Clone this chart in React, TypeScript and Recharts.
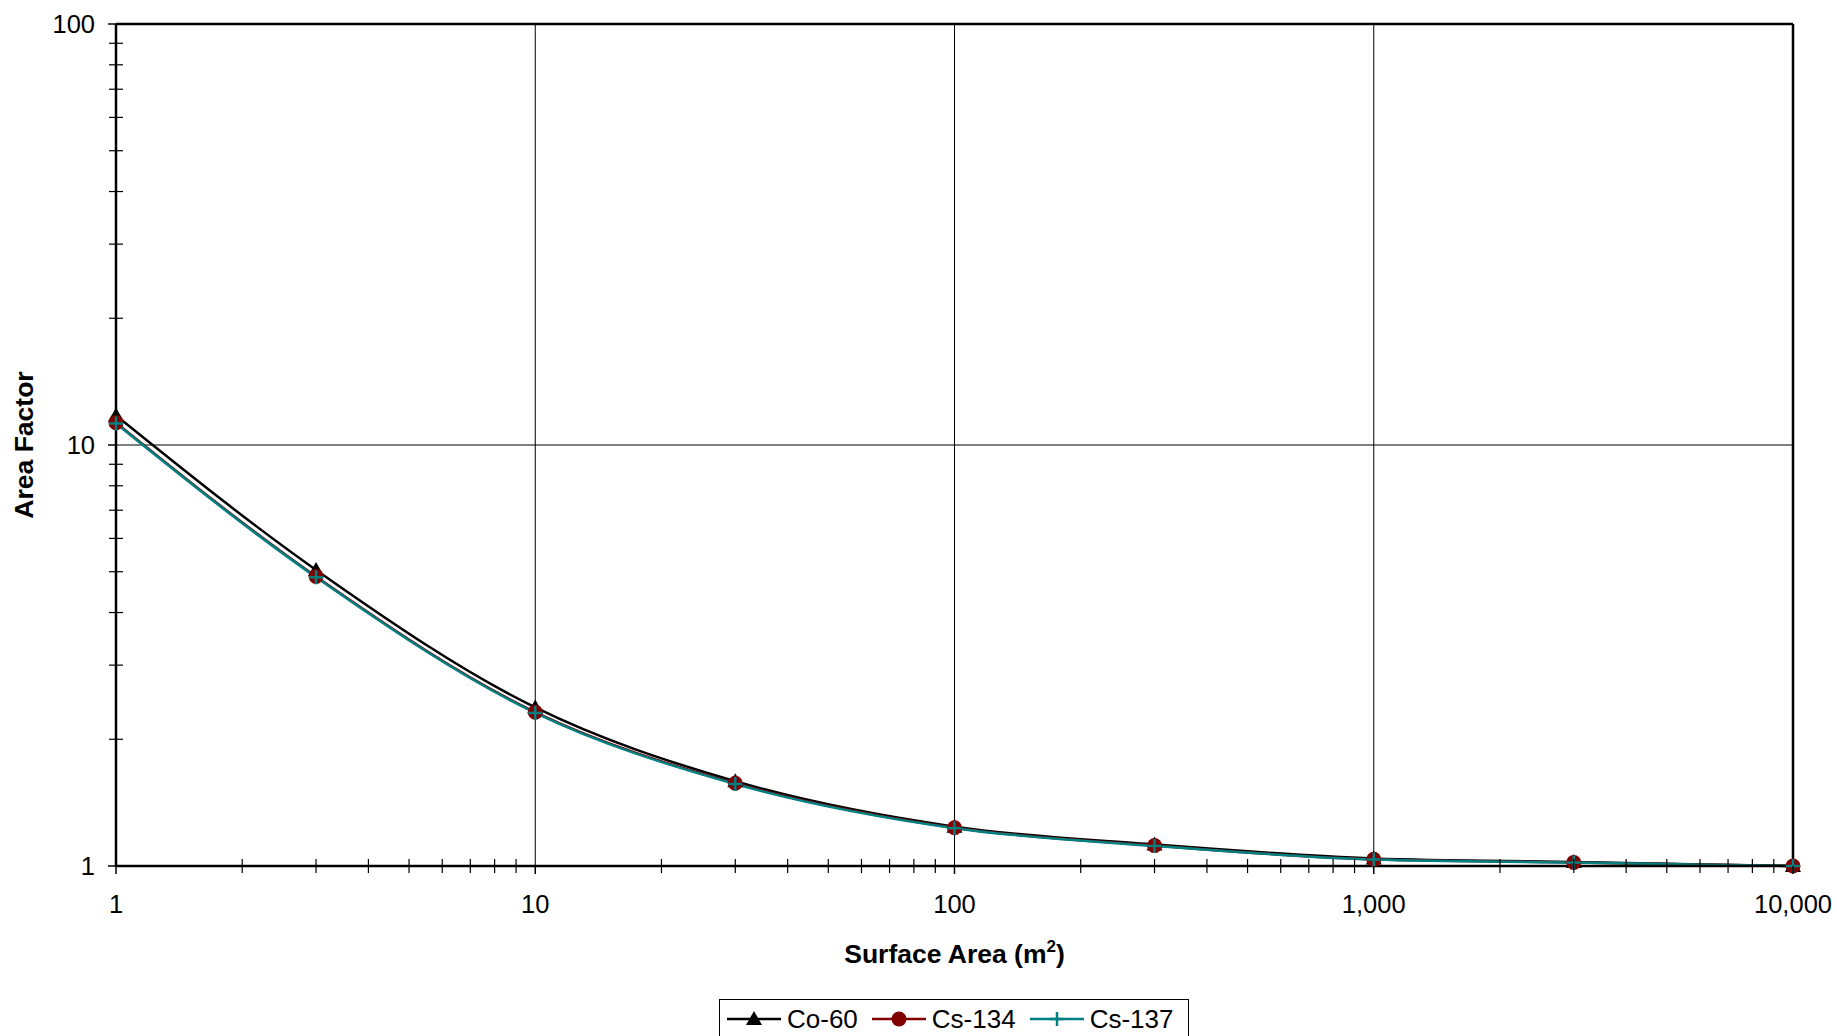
import React from 'react';
import { LineChart, Line, XAxis, YAxis, ReferenceLine, Legend, Label } from 'recharts';

const surfaceArea = [1, 3, 10, 30, 100, 300, 1000, 3000, 10000];
const co60 = [11.75, 5.05, 2.38, 1.59, 1.24, 1.125, 1.042, 1.022, 1.0];
const cs134 = [11.3, 4.87, 2.32, 1.572, 1.233, 1.118, 1.037, 1.02, 1.0];
const cs137 = [11.25, 4.85, 2.31, 1.566, 1.23, 1.116, 1.036, 1.019, 1.0];

const xMajorTicks = [1, 10, 100, 1000, 10000];
const yMajorTicks = [1, 10, 100];
const minorMultipliers = [1, 2, 3, 4, 5, 6, 7, 8, 9];
const xTicks = xMajorTicks.flatMap((m, i) => (i < xMajorTicks.length - 1 ? minorMultipliers.map((k) => m * k) : [m]));
const yTicks = yMajorTicks.flatMap((m, i) => (i < yMajorTicks.length - 1 ? minorMultipliers.map((k) => m * k) : [m]));
const xGrid = [10, 100, 1000];
const yGrid = [10];

const seriesNames = ['Co-60', 'Cs-134', 'Cs-137'];
const seriesColors = ['#000000', '#800000', '#008080'];

const data = surfaceArea.map((x, i) => ({ x, co60: co60[i], cs134: cs134[i], cs137: cs137[i] }));

const FONT = '"Liberation Sans", Arial, sans-serif';
const fmt = (v: number) => v.toLocaleString('en-US');

const XTick = (props: any) => {
  const { x, y, payload } = props;
  const v = payload.value;
  const major = xMajorTicks.includes(v);
  return (
    <g>
      {major ? (
        <line x1={x} x2={x} y1={y} y2={y + 8} stroke="#000" strokeWidth={1.5} />
      ) : (
        <line x1={x} x2={x} y1={y - 7} y2={y + 7} stroke="#000" strokeWidth={1.2} />
      )}
      {major && (
        <text x={x} y={y + 47} textAnchor="middle" fontFamily={FONT} fontSize={25.5} fill="#000">
          {fmt(v)}
        </text>
      )}
    </g>
  );
};

const YTick = (props: any) => {
  const { x, y, payload } = props;
  const v = payload.value;
  const major = yMajorTicks.includes(v);
  return (
    <g>
      {major ? (
        <line x1={x - 8} x2={x} y1={y} y2={y} stroke="#000" strokeWidth={1.5} />
      ) : (
        <line x1={x - 7} x2={x + 7} y1={y} y2={y} stroke="#000" strokeWidth={1.2} />
      )}
      {major && (
        <text x={x - 21} y={y + 9} textAnchor="end" fontFamily={FONT} fontSize={25.5} fill="#000">
          {fmt(v)}
        </text>
      )}
    </g>
  );
};

const Triangle = (props: any) => {
  const { cx, cy } = props;
  if (cx == null || cy == null) return null;
  return <path d={`M${cx},${cy - 8} L${cx + 8},${cy + 6} L${cx - 8},${cy + 6} Z`} fill="#000" />;
};
const Circle = (props: any) => {
  const { cx, cy } = props;
  if (cx == null || cy == null) return null;
  return <circle cx={cx} cy={cy} r={7.5} fill="#800000" />;
};
const Plus = (props: any) => {
  const { cx, cy } = props;
  if (cx == null || cy == null) return null;
  return (
    <g stroke="#008080" strokeWidth={2.5}>
      <line x1={cx - 7} x2={cx + 7} y1={cy} y2={cy} />
      <line x1={cx} x2={cx} y1={cy - 7} y2={cy + 7} />
    </g>
  );
};

const LegendIcon = ({ i }: { i: number }) => {
  const c = seriesColors[i];
  return (
    <svg width={54} height={20} style={{ display: 'block', flexShrink: 0 }}>
      <line x1={0} x2={54} y1={10} y2={10} stroke={c} strokeWidth={2.5} />
      {i === 0 && <path d="M27,2 L35,16 L19,16 Z" fill="#000" />}
      {i === 1 && <circle cx={27} cy={10} r={7.5} fill="#800000" />}
      {i === 2 && (
        <g stroke="#008080" strokeWidth={2.5}>
          <line x1={20} x2={34} y1={10} y2={10} />
          <line x1={27} x2={27} y1={3} y2={17} />
        </g>
      )}
    </svg>
  );
};

const LegendContent = () => (
  <div
    style={{
      border: '1.5px solid #000',
      boxSizing: 'border-box',
      width: 470,
      height: 50,
      display: 'flex',
      flexWrap: 'nowrap',
      alignItems: 'flex-start',
      paddingLeft: 7,
      paddingTop: 4,
      fontFamily: FONT,
      fontSize: 26,
      background: '#fff',
      whiteSpace: 'nowrap',
    }}
  >
    {seriesNames.map((n, i) => (
      <div key={n} style={{ display: 'flex', alignItems: 'center', marginRight: 14, flexShrink: 0 }}>
        <LegendIcon i={i} />
        <span style={{ marginLeft: 6, lineHeight: '30px', whiteSpace: 'nowrap' }}>{n}</span>
      </div>
    ))}
  </div>
);

const XTitle = (props: any) => {
  const { viewBox } = props;
  const cx = viewBox.x + viewBox.width / 2;
  return (
    <text x={cx} y={viewBox.y + 97} textAnchor="middle" fontFamily={FONT} fontSize={26.5} fontWeight="bold" fill="#000">
      Surface Area (m
      <tspan fontSize={17} dy={-11}>2</tspan>
      <tspan dy={11}>)</tspan>
    </text>
  );
};

const YTitle = (props: any) => {
  const { viewBox } = props;
  const cy = viewBox.y + viewBox.height / 2;
  const cx = viewBox.x + 24;
  return (
    <text
      x={cx}
      y={cy}
      transform={`rotate(-90 ${cx} ${cy})`}
      textAnchor="middle"
      dominantBaseline="central"
      fontFamily={FONT}
      fontSize={26.5}
      fontWeight="bold"
      fill="#000"
    >
      Area Factor
    </text>
  );
};

export default function App() {
  return (
    <div style={{ position: 'absolute', left: 0, top: 0, background: '#fff' }}>
      <LineChart width={1837} height={1036} data={data} margin={{ top: 24, right: 44, bottom: 0, left: 0 }}>
        <XAxis
          dataKey="x"
          type="number"
          scale="log"
          domain={[1, 10000]}
          ticks={xTicks}
          interval={0}
          tick={<XTick />}
          tickLine={false}
          tickSize={0}
          tickMargin={0}
          height={170}
          axisLine={{ stroke: '#000', strokeWidth: 2.5 }}
        >
          <Label content={<XTitle />} />
        </XAxis>
        <YAxis
          type="number"
          scale="log"
          domain={[1, 100]}
          ticks={yTicks}
          interval={0}
          tick={<YTick />}
          tickLine={false}
          tickSize={0}
          tickMargin={0}
          width={116}
          axisLine={{ stroke: '#000', strokeWidth: 2.5 }}
        >
          <Label content={<YTitle />} />
        </YAxis>
        {xGrid.map((g) => (
          <ReferenceLine key={'x' + g} x={g} stroke="#000" strokeWidth={1} />
        ))}
        {yGrid.map((g) => (
          <ReferenceLine key={'y' + g} y={g} stroke="#000" strokeWidth={1} />
        ))}
        <ReferenceLine y={100} stroke="#000" strokeWidth={2.5} />
        <ReferenceLine x={10000} stroke="#000" strokeWidth={2.5} />
        <Line type="monotone" dataKey="co60" name={seriesNames[0]} stroke={seriesColors[0]} strokeWidth={2.5} dot={<Triangle />} activeDot={false} isAnimationActive={false} />
        <Line type="monotone" dataKey="cs134" name={seriesNames[1]} stroke={seriesColors[1]} strokeWidth={2.5} dot={<Circle />} activeDot={false} isAnimationActive={false} />
        <Line type="monotone" dataKey="cs137" name={seriesNames[2]} stroke={seriesColors[2]} strokeWidth={2.5} dot={<Plus />} activeDot={false} isAnimationActive={false} />
        <Legend
          layout="horizontal"
          verticalAlign="middle"
          align="center"
          content={<LegendContent />}
          wrapperStyle={{ position: 'absolute', left: 719, top: 999, width: 470, height: 50 }}
        />
      </LineChart>
    </div>
  );
}
